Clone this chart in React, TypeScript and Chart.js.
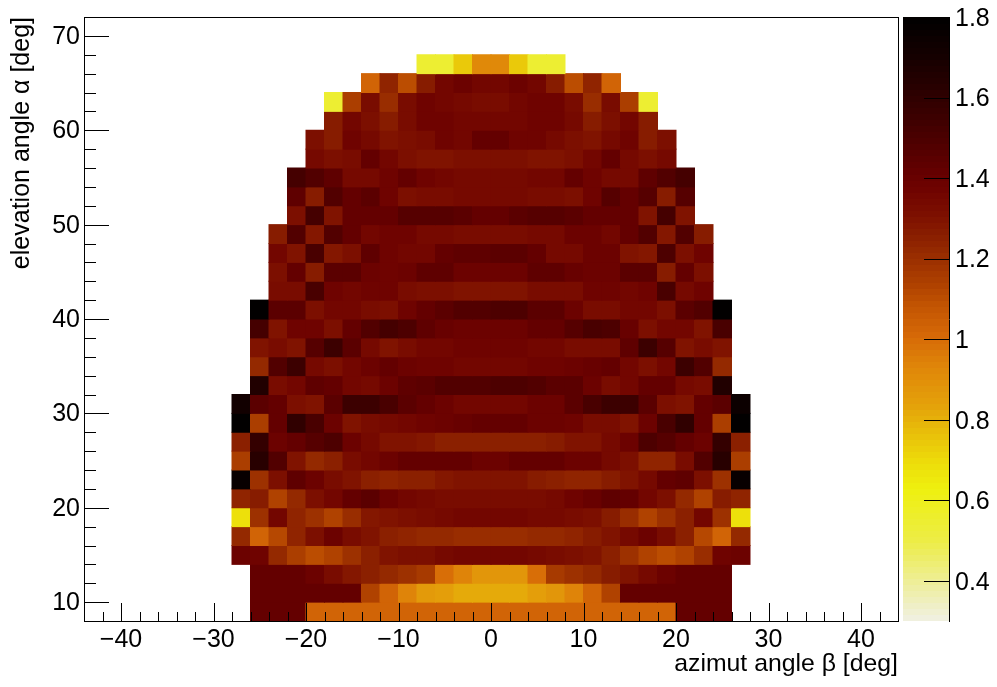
import React, { useEffect, useRef } from "react";
import { Chart, registerables } from "chart.js";

Chart.register(...registerables);

const FONT = "'Liberation Sans', Arial, sans-serif";
const BIN = 2;

// lower edge of each elevation row, top of the picture first
const elevationEdges = [66, 64, 62, 60, 58, 56, 54, 52, 50, 48, 46, 44, 42, 40, 38, 36, 34, 32, 30, 28, 26, 24, 22, 20, 18, 16, 14, 12, 10, 8];
// lower azimuth edge of the first cell of each row
const rowStarts = [-8, -14, -18, -18, -20, -20, -22, -22, -22, -24, -24, -24, -24, -26, -26, -26, -26, -26, -28, -28, -28, -28, -28, -28, -28, -28, -28, -26, -26, -26];

const r66 = [0.54, 0.54, 0.74, 0.92, 0.92, 0.74, 0.54, 0.54];
const r64 = [1.02, 1.23, 1.1, 1.26, 1.35, 1.39, 1.35, 1.35, 1.39, 1.35, 1.26, 1.1, 1.23, 1.02];
const r62 = [0.55, 1.15, 1.33, 1.21, 1.32, 1.38, 1.36, 1.34, 1.33, 1.33, 1.35, 1.37, 1.38, 1.32, 1.21, 1.33, 1.15, 0.55];
const r60 = [1.27, 1.35, 1.31, 1.27, 1.33, 1.38, 1.38, 1.35, 1.36, 1.36, 1.36, 1.38, 1.38, 1.34, 1.27, 1.31, 1.35, 1.27];
const r58 = [1.31, 1.26, 1.37, 1.34, 1.29, 1.31, 1.33, 1.37, 1.36, 1.41, 1.41, 1.37, 1.37, 1.34, 1.31, 1.29, 1.34, 1.37, 1.26, 1.31];
const r56 = [1.34, 1.31, 1.33, 1.41, 1.36, 1.31, 1.3, 1.3, 1.31, 1.31, 1.31, 1.31, 1.3, 1.3, 1.31, 1.36, 1.41, 1.34, 1.31, 1.34];
const r54 = [1.52, 1.47, 1.43, 1.34, 1.34, 1.38, 1.42, 1.37, 1.36, 1.34, 1.34, 1.34, 1.34, 1.36, 1.36, 1.41, 1.38, 1.34, 1.34, 1.43, 1.47, 1.52];
const r52 = [1.43, 1.26, 1.47, 1.41, 1.45, 1.38, 1.31, 1.33, 1.33, 1.34, 1.34, 1.34, 1.34, 1.33, 1.33, 1.31, 1.38, 1.46, 1.41, 1.46, 1.26, 1.46];
const r50 = [1.31, 1.52, 1.3, 1.41, 1.42, 1.42, 1.46, 1.46, 1.46, 1.45, 1.42, 1.42, 1.45, 1.46, 1.46, 1.45, 1.42, 1.42, 1.41, 1.3, 1.52, 1.3];
const r48 = [1.27, 1.47, 1.28, 1.48, 1.41, 1.36, 1.38, 1.38, 1.34, 1.34, 1.33, 1.33, 1.33, 1.33, 1.34, 1.34, 1.39, 1.39, 1.36, 1.41, 1.48, 1.28, 1.47, 1.27];
const r46 = [1.36, 1.3, 1.5, 1.28, 1.31, 1.43, 1.38, 1.36, 1.36, 1.41, 1.43, 1.43, 1.44, 1.44, 1.41, 1.34, 1.34, 1.39, 1.39, 1.3, 1.28, 1.49, 1.31, 1.38];
const r44 = [1.31, 1.41, 1.26, 1.45, 1.45, 1.39, 1.38, 1.39, 1.43, 1.43, 1.39, 1.39, 1.39, 1.39, 1.43, 1.43, 1.4, 1.39, 1.39, 1.45, 1.45, 1.26, 1.41, 1.31];
const r42 = [1.33, 1.33, 1.5, 1.37, 1.36, 1.37, 1.37, 1.32, 1.31, 1.31, 1.29, 1.29, 1.29, 1.29, 1.32, 1.32, 1.33, 1.38, 1.38, 1.36, 1.38, 1.5, 1.34, 1.37];
const r40 = [1.8, 1.44, 1.44, 1.31, 1.36, 1.36, 1.33, 1.31, 1.38, 1.41, 1.45, 1.48, 1.48, 1.49, 1.49, 1.45, 1.45, 1.39, 1.33, 1.33, 1.36, 1.36, 1.31, 1.44, 1.47, 1.8];
const r38 = [1.52, 1.3, 1.37, 1.37, 1.31, 1.41, 1.47, 1.52, 1.49, 1.43, 1.4, 1.39, 1.39, 1.39, 1.39, 1.42, 1.42, 1.46, 1.51, 1.49, 1.4, 1.31, 1.36, 1.36, 1.3, 1.5];
const r36 = [1.29, 1.32, 1.29, 1.46, 1.55, 1.44, 1.34, 1.3, 1.33, 1.36, 1.36, 1.38, 1.38, 1.38, 1.38, 1.35, 1.35, 1.33, 1.32, 1.32, 1.43, 1.55, 1.46, 1.29, 1.33, 1.29];
const r34 = [1.22, 1.47, 1.55, 1.34, 1.31, 1.36, 1.39, 1.42, 1.39, 1.37, 1.37, 1.35, 1.35, 1.35, 1.35, 1.37, 1.37, 1.39, 1.4, 1.42, 1.36, 1.31, 1.36, 1.55, 1.47, 1.22];
const r32 = [1.65, 1.32, 1.35, 1.43, 1.41, 1.36, 1.34, 1.39, 1.43, 1.44, 1.47, 1.47, 1.47, 1.49, 1.49, 1.48, 1.44, 1.44, 1.39, 1.32, 1.36, 1.42, 1.42, 1.34, 1.32, 1.65];
const r30 = [1.72, 1.44, 1.41, 1.31, 1.3, 1.45, 1.55, 1.55, 1.5, 1.45, 1.41, 1.39, 1.35, 1.35, 1.35, 1.35, 1.39, 1.39, 1.44, 1.5, 1.55, 1.55, 1.45, 1.31, 1.3, 1.41, 1.44, 1.74];
const r28 = [1.8, 1.15, 1.41, 1.6, 1.5, 1.39, 1.3, 1.32, 1.34, 1.36, 1.38, 1.39, 1.4, 1.42, 1.42, 1.42, 1.39, 1.39, 1.37, 1.33, 1.32, 1.3, 1.39, 1.5, 1.6, 1.41, 1.15, 1.8];
const r26 = [1.25, 1.58, 1.39, 1.41, 1.46, 1.49, 1.39, 1.34, 1.3, 1.3, 1.28, 1.25, 1.25, 1.25, 1.25, 1.25, 1.25, 1.26, 1.3, 1.3, 1.34, 1.39, 1.49, 1.46, 1.41, 1.39, 1.58, 1.25];
const r24 = [1.15, 1.63, 1.47, 1.3, 1.22, 1.25, 1.33, 1.35, 1.39, 1.41, 1.42, 1.41, 1.41, 1.39, 1.39, 1.41, 1.41, 1.41, 1.39, 1.39, 1.34, 1.31, 1.23, 1.24, 1.32, 1.47, 1.63, 1.15];
const r22 = [1.76, 1.2, 1.31, 1.43, 1.39, 1.33, 1.3, 1.25, 1.23, 1.25, 1.25, 1.28, 1.3, 1.3, 1.29, 1.29, 1.27, 1.25, 1.24, 1.23, 1.26, 1.29, 1.34, 1.41, 1.43, 1.31, 1.2, 1.76];
const r20 = [1.23, 1.26, 1.13, 1.22, 1.31, 1.35, 1.41, 1.44, 1.39, 1.36, 1.34, 1.32, 1.32, 1.32, 1.32, 1.32, 1.33, 1.34, 1.37, 1.4, 1.43, 1.42, 1.35, 1.31, 1.22, 1.13, 1.26, 1.23];
const r18 = [0.69, 1.2, 1.35, 1.24, 1.2, 1.14, 1.21, 1.28, 1.3, 1.31, 1.32, 1.34, 1.35, 1.35, 1.35, 1.35, 1.34, 1.34, 1.32, 1.31, 1.27, 1.21, 1.14, 1.2, 1.25, 1.36, 1.2, 0.69];
const r16 = [1.22, 1.03, 1.12, 1.23, 1.31, 1.39, 1.33, 1.3, 1.25, 1.24, 1.22, 1.22, 1.21, 1.21, 1.21, 1.21, 1.22, 1.22, 1.24, 1.26, 1.3, 1.34, 1.39, 1.33, 1.25, 1.12, 1.03, 1.22];
const r14 = [1.39, 1.37, 1.22, 1.15, 1.1, 1.13, 1.2, 1.25, 1.29, 1.31, 1.31, 1.34, 1.35, 1.35, 1.35, 1.35, 1.34, 1.33, 1.31, 1.3, 1.25, 1.2, 1.13, 1.1, 1.13, 1.21, 1.37, 1.39];
const r12 = [1.41, 1.41, 1.41, 1.39, 1.32, 1.28, 1.25, 1.22, 1.2, 1.17, 1.0, 0.93, 0.87, 0.87, 0.88, 1.0, 1.17, 1.19, 1.22, 1.26, 1.3, 1.34, 1.39, 1.41, 1.41, 1.41];
const r10 = [1.41, 1.41, 1.41, 1.41, 1.41, 1.41, 1.13, 1.02, 0.93, 0.86, 0.84, 0.82, 0.82, 0.82, 0.82, 0.84, 0.87, 0.93, 1.02, 1.13, 1.41, 1.41, 1.41, 1.41, 1.41, 1.41];
const r8 = [1.41, 1.41, 1.41, 1.02, 1.02, 1.02, 1.02, 1.02, 1.02, 1.02, 1.02, 1.02, 1.02, 1.02, 1.02, 1.02, 1.02, 1.02, 1.02, 1.02, 1.02, 1.02, 1.02, 1.41, 1.41, 1.41];

const cellRows = [r66, r64, r62, r60, r58, r56, r54, r52, r50, r48, r46, r44, r42, r40, r38, r36, r34, r32, r30, r28, r26, r24, r22, r20, r18, r16, r14, r12, r10, r8];

const colorbarTicks = [0.4, 0.6, 0.8, 1, 1.2, 1.4, 1.6, 1.8];
const Z_MIN = 0.3;
const Z_MAX = 1.8;
const LEVELS = 100;

// palette: z value, r, g, b
const paletteStops: number[][] = [
  [0.3, 240, 240, 228], [0.4, 238, 238, 150], [0.5, 237, 237, 70], [0.63, 238, 240, 15],
  [0.69, 237, 222, 10], [0.77, 232, 190, 10], [0.84, 228, 160, 10], [0.93, 224, 135, 9],
  [1.01, 214, 105, 7], [1.09, 192, 82, 2], [1.13, 177, 67, 0], [1.2, 155, 47, 0],
  [1.26, 137, 30, 0], [1.31, 125, 15, 0], [1.37, 112, 3, 0], [1.41, 102, 0, 0],
  [1.5, 75, 0, 0], [1.6, 47, 0, 0], [1.7, 22, 0, 0], [1.8, 0, 0, 0],
];

function ramp(v: number): string {
  let i = 0;
  while (i < paletteStops.length - 2 && v > paletteStops[i + 1][0]) i++;
  const a = paletteStops[i];
  const b = paletteStops[i + 1];
  const t = Math.max(0, Math.min(1, (v - a[0]) / (b[0] - a[0])));
  const c = [1, 2, 3].map((k) => Math.round(a[k] + (b[k] - a[k]) * t));
  return `rgb(${c[0]},${c[1]},${c[2]})`;
}

function levelColor(v: number): string {
  const step = (Z_MAX - Z_MIN) / LEVELS;
  const level = Math.min(LEVELS - 1, Math.max(0, Math.floor((v - Z_MIN) / step)));
  return ramp(Z_MIN + (level + 0.5) * step);
}

const rowDatasets = cellRows.map((row, r) => ({
  type: "bar" as const,
  label: `alpha ${elevationEdges[r]}`,
  xAxisID: "x",
  yAxisID: "y",
  grouped: false,
  barPercentage: 1,
  categoryPercentage: 1,
  borderWidth: 0,
  inflateAmount: 0.5,
  data: row.map((_, c) => ({
    x: rowStarts[r] + BIN * c + BIN / 2,
    y: [elevationEdges[r], elevationEdges[r] + BIN],
  })),
  backgroundColor: row.map((v) => levelColor(v)),
}));

const frameAndTicks = {
  id: "frameAndTicks",
  beforeDatasetsDraw(chart: any) {
    const { ctx, scales } = chart;
    const cb = scales.z;
    for (let l = 0; l < LEVELS; l++) {
      const lo = Z_MIN + (l * (Z_MAX - Z_MIN)) / LEVELS;
      const hi = Z_MIN + ((l + 1) * (Z_MAX - Z_MIN)) / LEVELS;
      const y0 = cb.getPixelForValue(lo);
      const y1 = cb.getPixelForValue(hi);
      ctx.fillStyle = levelColor((lo + hi) / 2);
      ctx.fillRect(903, Math.floor(y1), 46, Math.ceil(y0) - Math.floor(y1));
    }
  },
  afterDatasetsDraw(chart: any) {
    const { ctx, chartArea: a, scales } = chart;
    ctx.save();
    ctx.strokeStyle = "#000";
    ctx.lineWidth = 1;
    const line = (x0: number, y0: number, x1: number, y1: number) => {
      ctx.beginPath();
      ctx.moveTo(x0, y0);
      ctx.lineTo(x1, y1);
      ctx.stroke();
    };
    const snap = (p: number) => Math.round(p) + 0.5;
    ctx.strokeRect(a.left + 0.5, a.top + 0.5, a.right - a.left, a.bottom - a.top);
    scales.x.ticks.forEach((t: any) => {
      if (t.value <= scales.x.min || t.value >= scales.x.max) return;
      const p = snap(scales.x.getPixelForValue(t.value));
      line(p, a.bottom, p, a.bottom - (t.value % 10 === 0 ? 18 : 9));
    });
    scales.y.ticks.forEach((t: any) => {
      if (t.value <= scales.y.min || t.value >= scales.y.max) return;
      const p = snap(scales.y.getPixelForValue(t.value));
      line(a.left, p, a.left + (t.value % 10 === 0 ? 25 : 12), p);
    });
    line(949.5, a.top, 949.5, a.bottom + 1);
    colorbarTicks.forEach((v) => {
      const p = snap(scales.z.getPixelForValue(v));
      line(924, p, 949, p);
    });
    ctx.restore();
  },
};

const noPadding = (s: any) => {
  s.paddingTop = 0;
  s.paddingBottom = 0;
  s.paddingLeft = 0;
  s.paddingRight = 0;
};

export default function App() {
  const ref = useRef<HTMLCanvasElement>(null);
  useEffect(() => {
    if (!ref.current) return;
    const tickFont = { family: FONT, size: 25 };
    const chart = new Chart(ref.current, {
      type: "bar",
      data: { datasets: rowDatasets as any },
      plugins: [frameAndTicks],
      options: {
        responsive: false,
        animation: false,
        events: [],
        layout: { padding: { top: 17, left: 0, right: 0, bottom: 0 } },
        plugins: { legend: { display: false }, tooltip: { enabled: false }, title: { display: false } },
        scales: {
          x: {
            type: "linear",
            position: "bottom",
            min: -44,
            max: 44,
            offset: false,
            grid: { display: false, drawTicks: false },
            border: { display: false },
            afterFit: (s: any) => { s.height = 66; noPadding(s); },
            ticks: {
              stepSize: 2,
              autoSkip: false,
              maxRotation: 0,
              padding: 4,
              color: "#000",
              font: tickFont,
              callback: (v: any) => (v % 10 === 0 ? String(v).replace("-", "\u2212") : ""),
            },
            title: {
              display: true,
              text: "azimut angle \u03b2 [deg]",
              align: "end",
              color: "#000",
              font: { family: FONT, size: 24.8 },
              padding: { top: 0, bottom: 8 },
            },
          },
          y: {
            type: "linear",
            position: "left",
            min: 8,
            max: 72,
            grid: { display: false, drawTicks: false },
            border: { display: false },
            afterFit: (s: any) => { s.width = 84; noPadding(s); },
            ticks: {
              stepSize: 2,
              autoSkip: false,
              padding: 4,
              labelOffset: 1,
              color: "#000",
              font: tickFont,
              callback: (v: any) => (v % 10 === 0 ? String(v) : ""),
            },
            title: {
              display: true,
              text: "elevation angle \u03b1 [deg]",
              align: "end",
              color: "#000",
              font: { family: FONT, size: 25 },
              padding: { top: 7, bottom: 0 },
            },
          },
          z: {
            type: "linear",
            position: "right",
            min: Z_MIN,
            max: Z_MAX,
            grid: { display: false, drawTicks: false },
            border: { display: false },
            afterBuildTicks: (s: any) => { s.ticks = colorbarTicks.map((value) => ({ value })); },
            afterFit: (s: any) => { s.width = 99; noPadding(s); },
            ticks: {
              autoSkip: false,
              padding: 57,
              labelOffset: 2,
              color: "#000",
              font: tickFont,
              callback: (v: any) => String(v),
            },
          },
        },
      } as any,
    });
    return () => chart.destroy();
  }, []);
  return (
    <div style={{ position: "absolute", left: 0, top: 0, width: 997, height: 687, background: "#fff" }}>
      <canvas ref={ref} width={997} height={687} style={{ display: "block" }} />
    </div>
  );
}
